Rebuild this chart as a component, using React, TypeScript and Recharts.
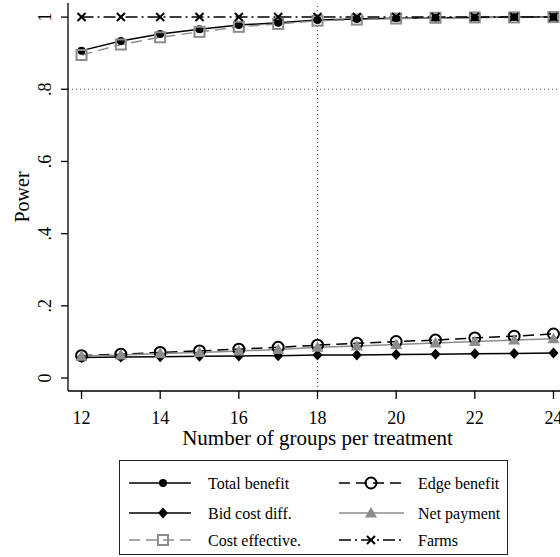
import { LineChart, Line, XAxis, YAxis, ReferenceLine } from "recharts";

const groups = [12, 13, 14, 15, 16, 17, 18, 19, 20, 21, 22, 23, 24];
const totalBenefit = [0.907, 0.934, 0.953, 0.966, 0.978, 0.984, 0.992, 0.995, 0.997, 0.998, 0.999, 1.0, 1.0];
const edgeBenefit = [0.062, 0.066, 0.071, 0.075, 0.08, 0.085, 0.091, 0.096, 0.101, 0.105, 0.111, 0.116, 0.122];
const bidCostDiff = [0.057, 0.058, 0.059, 0.06, 0.061, 0.062, 0.064, 0.064, 0.065, 0.066, 0.067, 0.068, 0.069];
const netPayment = [0.06, 0.064, 0.068, 0.071, 0.075, 0.079, 0.085, 0.089, 0.093, 0.097, 0.101, 0.105, 0.109];
const costEffective = [0.895, 0.924, 0.944, 0.959, 0.973, 0.981, 0.99, 0.993, 0.996, 0.998, 0.999, 0.999, 1.0];
const farms = [1, 1, 1, 1, 1, 1, 1, 1, 1, 1, 1, 1, 1];

const xTicks = [12, 14, 16, 18, 20, 22, 24];
const yTicks = [0, 0.2, 0.4, 0.6, 0.8, 1];
const yTickLabels = ["0", ".2", ".4", ".6", ".8", "1"];

const data = groups.map((g, i) => ({
  g,
  totalBenefit: totalBenefit[i],
  edgeBenefit: edgeBenefit[i],
  bidCostDiff: bidCostDiff[i],
  netPayment: netPayment[i],
  costEffective: costEffective[i],
  farms: farms[i],
}));

const FONT = "'Liberation Serif', 'Times New Roman', serif";
const GRAY = "#8c8c8c";

type Mark = "dot" | "ring" | "diamond" | "triangle" | "square" | "cross";

function marker(kind: Mark, x: number, y: number, key?: string | number) {
  switch (kind) {
    case "dot":
      return <circle key={key} cx={x} cy={y} r={4} fill="#000" />;
    case "ring":
      return <circle key={key} cx={x} cy={y} r={5.5} fill="none" stroke="#000" strokeWidth={2} />;
    case "diamond":
      return <polygon key={key} points={`${x},${y - 5.5} ${x + 5},${y} ${x},${y + 5.5} ${x - 5},${y}`} fill="#000" />;
    case "triangle":
      return <polygon key={key} points={`${x},${y - 6} ${x + 6},${y + 4.5} ${x - 6},${y + 4.5}`} fill={GRAY} />;
    case "square":
      return <rect key={key} x={x - 5} y={y - 5} width={10} height={10} fill="none" stroke={GRAY} strokeWidth={2} />;
    case "cross":
      return (
        <g key={key} stroke="#000" strokeWidth={2}>
          <line x1={x - 4} y1={y - 4} x2={x + 4} y2={y + 4} />
          <line x1={x - 4} y1={y + 4} x2={x + 4} y2={y - 4} />
        </g>
      );
  }
}

const dotFor = (kind: Mark) => (p: any) => marker(kind, p.cx, p.cy, `${kind}-${p.index}`);

const series: { key: string; name: string; color: string; dash?: string; mark: Mark }[] = [
  { key: "totalBenefit", name: "Total benefit", color: "#000", mark: "dot" },
  { key: "edgeBenefit", name: "Edge benefit", color: "#000", dash: "11 6", mark: "ring" },
  { key: "bidCostDiff", name: "Bid cost diff.", color: "#000", mark: "diamond" },
  { key: "netPayment", name: "Net payment", color: GRAY, mark: "triangle" },
  { key: "costEffective", name: "Cost effective.", color: GRAY, dash: "11 6", mark: "square" },
  { key: "farms", name: "Farms", color: "#000", dash: "12 4 2 4", mark: "cross" },
];

const XTick = (p: any) => (
  <text x={p.x} y={p.y + 23} textAnchor="middle" fontFamily={FONT} fontSize={18} fill="#000">
    {p.payload.value}
  </text>
);

const YTick = (p: any) => {
  const i = yTicks.indexOf(p.payload.value);
  const lx = p.x - 8;
  return (
    <text x={lx} y={p.y} transform={`rotate(-90, ${lx}, ${p.y})`} textAnchor="middle" fontFamily={FONT} fontSize={18} fill="#000">
      {yTickLabels[i]}
    </text>
  );
};

function LegendBox() {
  const rows = [22, 52, 79];
  const cols = [
    { x1: 9, x2: 71, m: 43, t: 88 },
    { x1: 219, x2: 284, m: 251, t: 298 },
  ];
  return (
    <svg width={389} height={95} style={{ position: "absolute", left: 119, top: 460, border: "1px solid #222", boxSizing: "border-box" }}>
      {series.map((s, i) => {
        const c = cols[i % 2];
        const y = rows[Math.floor(i / 2)];
        return (
          <g key={s.key}>
            <line x1={c.x1} y1={y} x2={c.x2} y2={y} stroke={s.color} strokeWidth={1.5} strokeDasharray={s.dash} />
            {marker(s.mark, c.m, y)}
            <text x={c.t} y={y + 5.5} fontFamily={FONT} fontSize={16} fill="#000">
              {s.name}
            </text>
          </g>
        );
      })}
    </svg>
  );
}

export default function App() {
  return (
    <div style={{ position: "absolute", left: 0, top: 0, width: 560, height: 557, overflow: "hidden", background: "#fff" }}>
      <LineChart width={567} height={557} data={data} margin={{ top: 3, right: 0, bottom: 0, left: 0 }}>
        <XAxis
          dataKey="g"
          type="number"
          domain={[11.656, 24.344]}
          allowDataOverflow
          ticks={xTicks}
          tick={<XTick />}
          tickSize={8}
          height={166}
          stroke="#000"
          strokeWidth={1.3}
          tickLine={{ stroke: "#000" }}
          label={{
            content: (p: any) => (
              <text x={p.viewBox.x + p.viewBox.width / 2} y={445} textAnchor="middle" fontFamily={FONT} fontSize={21} fill="#000">
                Number of groups per treatment
              </text>
            ),
          }}
        />
        <YAxis
          type="number"
          domain={[-0.036, 1.039]}
          allowDataOverflow
          ticks={yTicks}
          tick={<YTick />}
          tickSize={7}
          width={68}
          stroke="#000"
          strokeWidth={1.3}
          label={{
            content: () => (
              <text x={29} y={197} transform="rotate(-90, 29, 197)" textAnchor="middle" fontFamily={FONT} fontSize={20} fill="#000">
                Power
              </text>
            ),
          }}
        />
        <ReferenceLine x={18} stroke="#555" strokeDasharray="1 3" strokeWidth={1.2} />
        <ReferenceLine y={0.8} stroke="#555" strokeDasharray="1 3" strokeWidth={1.2} />
        {series.map((s) => (
          <Line
            key={s.key}
            dataKey={s.key}
            name={s.name}
            stroke={s.color}
            strokeWidth={1.5}
            strokeDasharray={s.dash}
            dot={dotFor(s.mark)}
            activeDot={false}
            type="linear"
            isAnimationActive={false}
          />
        ))}
      </LineChart>
      <LegendBox />
    </div>
  );
}
